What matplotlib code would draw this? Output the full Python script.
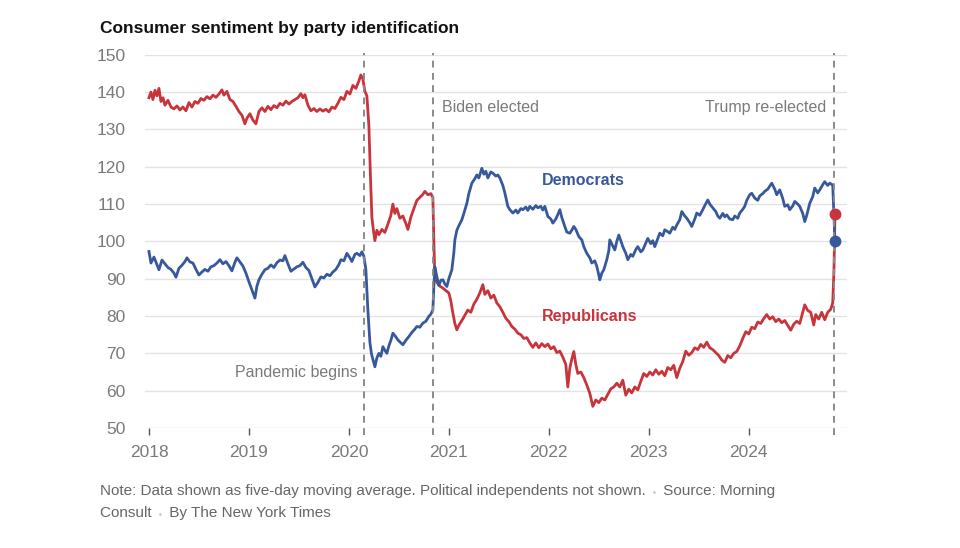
import numpy as np
import matplotlib.pyplot as plt

plt.rcParams['font.family'] = ['Liberation Sans', 'DejaVu Sans']

# -----------------------------------------------------------
# data (decimal years, index values)
rep_t = [2018.00, 2018.02, 2018.04, 2018.06, 2018.08, 2018.10, 2018.12, 2018.14, 2018.16, 2018.19,
         2018.22, 2018.25, 2018.28, 2018.31, 2018.34, 2018.37, 2018.40, 2018.43, 2018.46, 2018.49,
         2018.52, 2018.55, 2018.58, 2018.61, 2018.64, 2018.67, 2018.70, 2018.73, 2018.75, 2018.78,
         2018.81, 2018.84, 2018.87, 2018.90, 2018.93, 2018.96, 2018.98, 2019.01, 2019.04, 2019.07,
         2019.10, 2019.13, 2019.16, 2019.19, 2019.22, 2019.25, 2019.28, 2019.31, 2019.34, 2019.37,
         2019.40, 2019.43, 2019.46, 2019.49, 2019.52, 2019.54, 2019.56, 2019.59, 2019.62, 2019.65,
         2019.68, 2019.71, 2019.74, 2019.77, 2019.80, 2019.83, 2019.86, 2019.89, 2019.92, 2019.95,
         2019.98, 2020.01, 2020.04, 2020.07, 2020.10, 2020.12, 2020.14, 2020.16, 2020.18, 2020.20,
         2020.215, 2020.23, 2020.245, 2020.26, 2020.28, 2020.30, 2020.33, 2020.36, 2020.39, 2020.42,
         2020.44, 2020.46, 2020.48, 2020.51, 2020.54, 2020.57, 2020.59, 2020.62, 2020.65, 2020.68,
         2020.71, 2020.74, 2020.76, 2020.79, 2020.82, 2020.84, 2020.85, 2020.86, 2020.88, 2020.91,
         2020.94, 2020.97, 2021.00, 2021.02, 2021.04, 2021.06, 2021.08, 2021.10, 2021.13, 2021.16,
         2021.19, 2021.22, 2021.25, 2021.28, 2021.31, 2021.34, 2021.36, 2021.39, 2021.42, 2021.45,
         2021.48, 2021.51, 2021.54, 2021.57, 2021.60, 2021.63, 2021.66, 2021.69, 2021.72, 2021.75,
         2021.78, 2021.81, 2021.84, 2021.87, 2021.90, 2021.93, 2021.96, 2021.99, 2022.02, 2022.05,
         2022.08, 2022.11, 2022.14, 2022.17, 2022.19, 2022.21, 2022.23, 2022.25, 2022.27, 2022.29,
         2022.32, 2022.35, 2022.38, 2022.41, 2022.44, 2022.47, 2022.50, 2022.53, 2022.56, 2022.59,
         2022.62, 2022.65, 2022.68, 2022.71, 2022.74, 2022.77, 2022.80, 2022.83, 2022.86, 2022.89,
         2022.92, 2022.95, 2022.98, 2023.01, 2023.04, 2023.07, 2023.10, 2023.13, 2023.16, 2023.19,
         2023.22, 2023.25, 2023.28, 2023.31, 2023.34, 2023.37, 2023.40, 2023.43, 2023.46, 2023.49,
         2023.52, 2023.55, 2023.58, 2023.61, 2023.64, 2023.67, 2023.70, 2023.73, 2023.76, 2023.79,
         2023.82, 2023.85, 2023.88, 2023.91, 2023.94, 2023.97, 2024.00, 2024.03, 2024.06, 2024.09,
         2024.12, 2024.15, 2024.18, 2024.21, 2024.24, 2024.27, 2024.30, 2024.33, 2024.36, 2024.39,
         2024.42, 2024.45, 2024.48, 2024.51, 2024.54, 2024.56, 2024.59, 2024.62, 2024.65, 2024.67,
         2024.70, 2024.73, 2024.76, 2024.79, 2024.82, 2024.84, 2024.852, 2024.858, 2024.862]
rep_v = [138.5, 140.0, 138.0, 140.5, 139.0, 141.0, 137.5, 138.5, 136.5, 137.8,
         136.0, 135.5, 136.3, 135.2, 136.0, 135.0, 137.2, 136.0, 137.5, 137.0,
         138.3, 137.8, 138.8, 138.2, 139.2, 138.6, 139.5, 140.6, 139.2, 140.2,
         138.0, 137.5, 136.2, 134.8, 133.8, 131.5, 133.0, 134.2, 132.5, 131.5,
         134.8, 135.8, 134.8, 136.2, 135.3, 136.4, 135.8, 137.0, 136.5, 137.6,
         136.8, 137.5, 138.0, 138.5, 139.6, 138.5, 139.3, 136.5, 135.0, 135.6,
         134.8, 135.5, 134.9, 135.4, 134.7, 136.0, 135.6, 137.0, 138.6, 138.0,
         140.2, 139.5, 141.8, 141.0, 143.0, 144.6, 143.5, 140.2, 139.0, 131.0,
         118.0, 106.5, 103.0, 100.2, 103.0, 101.8, 103.2, 102.4, 104.6, 107.0,
         110.0, 107.5, 108.8, 106.2, 106.8, 104.8, 103.2, 106.5, 108.8, 111.0,
         111.8, 112.6, 113.4, 112.5, 112.8, 111.8, 100.0, 90.0, 89.0, 88.0,
         87.5, 86.8, 86.2, 84.0, 80.8, 78.0, 76.3, 77.5, 78.8, 80.2,
         81.6, 81.0, 83.2, 84.5, 86.2, 88.4, 85.8, 86.8, 84.8, 85.6,
         83.5, 82.5, 81.0, 79.4, 78.5, 77.2, 76.5, 75.4, 75.0, 74.0,
         74.2, 72.8, 71.6, 72.8, 71.5, 72.6, 71.8, 72.5, 71.2, 71.8,
         70.2, 70.6, 69.0, 67.0, 61.0, 66.0, 68.5, 70.5, 67.0, 64.6,
         65.0, 63.5, 61.5, 59.3, 55.8, 57.5, 56.8, 58.0, 57.5, 59.0,
         60.5, 61.0, 62.0, 61.0, 62.8, 58.8, 60.4, 59.4, 61.0, 60.2,
         62.5, 64.6, 63.8, 65.0, 64.2, 65.6, 64.4, 65.2, 64.0, 66.2,
         65.6, 66.8, 63.5, 66.0, 67.8, 70.6, 69.5, 70.2, 71.5, 71.0,
         72.4, 71.6, 73.0, 71.5, 71.0, 70.2, 69.4, 68.2, 67.6, 69.4,
         68.8, 70.0, 70.5, 72.0, 74.0, 75.8, 75.2, 77.0, 76.6, 78.4,
         78.0, 79.3, 80.4, 79.2, 79.8, 78.5, 79.2, 78.2, 78.8, 77.5,
         76.2, 77.8, 78.6, 78.0, 81.0, 83.0, 81.5, 81.0, 77.6, 80.4,
         79.2, 81.0, 79.0, 81.0, 81.8, 83.5, 92.0, 100.0, 107.4]

dem_t = [2018.00, 2018.02, 2018.05, 2018.08, 2018.10, 2018.13, 2018.16, 2018.19, 2018.22, 2018.25,
         2018.27, 2018.30, 2018.33, 2018.36, 2018.38, 2018.41, 2018.44, 2018.47, 2018.50, 2018.53,
         2018.56, 2018.59, 2018.62, 2018.65, 2018.68, 2018.71, 2018.74, 2018.77, 2018.80, 2018.83,
         2018.86, 2018.88, 2018.91, 2018.94, 2018.97, 2019.00, 2019.03, 2019.06, 2019.08, 2019.10,
         2019.13, 2019.16, 2019.19, 2019.22, 2019.25, 2019.28, 2019.31, 2019.34, 2019.36, 2019.39,
         2019.42, 2019.45, 2019.48, 2019.51, 2019.54, 2019.57, 2019.60, 2019.63, 2019.66, 2019.69,
         2019.72, 2019.75, 2019.78, 2019.81, 2019.84, 2019.87, 2019.90, 2019.92, 2019.95, 2019.98,
         2020.01, 2020.03, 2020.06, 2020.08, 2020.11, 2020.13, 2020.15, 2020.17, 2020.19, 2020.21,
         2020.225, 2020.24, 2020.26, 2020.28, 2020.30, 2020.32, 2020.34, 2020.36, 2020.38, 2020.40,
         2020.42, 2020.44, 2020.47, 2020.49, 2020.52, 2020.54, 2020.57, 2020.60, 2020.63, 2020.66,
         2020.68, 2020.71, 2020.74, 2020.77, 2020.80, 2020.82, 2020.84, 2020.85, 2020.86, 2020.88,
         2020.90, 2020.92, 2020.94, 2020.96, 2020.98, 2021.00, 2021.03, 2021.05, 2021.06, 2021.08,
         2021.10, 2021.13, 2021.15, 2021.18, 2021.20, 2021.23, 2021.26, 2021.28, 2021.30, 2021.33,
         2021.35, 2021.37, 2021.39, 2021.42, 2021.44, 2021.47, 2021.49, 2021.51, 2021.54, 2021.56,
         2021.59, 2021.61, 2021.64, 2021.67, 2021.69, 2021.72, 2021.74, 2021.77, 2021.79, 2021.81,
         2021.84, 2021.87, 2021.89, 2021.92, 2021.94, 2021.96, 2021.99, 2022.02, 2022.04, 2022.07,
         2022.09, 2022.11, 2022.13, 2022.16, 2022.18, 2022.21, 2022.23, 2022.25, 2022.27, 2022.30,
         2022.33, 2022.35, 2022.38, 2022.41, 2022.43, 2022.46, 2022.48, 2022.50, 2022.51, 2022.53,
         2022.55, 2022.58, 2022.60, 2022.61, 2022.64, 2022.66, 2022.68, 2022.70, 2022.72, 2022.74,
         2022.77, 2022.79, 2022.82, 2022.84, 2022.87, 2022.89, 2022.92, 2022.94, 2022.97, 2022.99,
         2023.02, 2023.04, 2023.06, 2023.09, 2023.11, 2023.14, 2023.16, 2023.19, 2023.21, 2023.24,
         2023.26, 2023.28, 2023.31, 2023.33, 2023.36, 2023.38, 2023.41, 2023.43, 2023.46, 2023.48,
         2023.51, 2023.54, 2023.56, 2023.59, 2023.61, 2023.64, 2023.67, 2023.69, 2023.71, 2023.74,
         2023.76, 2023.78, 2023.81, 2023.84, 2023.86, 2023.89, 2023.91, 2023.94, 2023.96, 2023.98,
         2024.01, 2024.03, 2024.06, 2024.09, 2024.11, 2024.14, 2024.16, 2024.19, 2024.21, 2024.23,
         2024.26, 2024.28, 2024.31, 2024.34, 2024.36, 2024.39, 2024.41, 2024.44, 2024.46, 2024.49,
         2024.51, 2024.54, 2024.56, 2024.58, 2024.61, 2024.64, 2024.66, 2024.69, 2024.71, 2024.74,
         2024.76, 2024.79, 2024.81, 2024.84, 2024.85, 2024.862]
dem_v = [97.3, 94.2, 95.8, 93.8, 92.4, 95.0, 94.0, 93.0, 92.5, 91.5,
         90.4, 92.8, 93.6, 94.6, 95.6, 94.5, 94.2, 92.5, 91.0, 91.8,
         92.5, 92.0, 93.2, 93.5, 94.2, 95.1, 94.0, 94.6, 93.5, 92.1,
         94.4, 95.6, 94.5, 93.4, 91.5, 89.2, 87.0, 84.8, 88.0, 89.7,
         91.2, 92.4, 92.8, 93.7, 93.0, 94.3, 95.0, 94.8, 96.2, 94.0,
         92.0, 92.6, 93.2, 93.5, 94.4, 93.0, 92.2, 90.0, 87.8, 89.0,
         90.5, 90.2, 91.2, 90.8, 91.8, 92.5, 93.8, 95.1, 94.8, 96.8,
         95.6, 94.6, 96.5, 96.8, 96.2, 97.2, 96.0, 92.4, 81.6, 73.0,
         70.0, 68.4, 66.4, 68.8, 70.0, 69.2, 71.8, 70.8, 70.0, 72.0,
         73.5, 75.4, 74.4, 73.6, 72.8, 72.3, 73.5, 74.5, 75.6, 76.5,
         77.2, 77.0, 78.1, 78.6, 79.9, 80.5, 81.6, 88.0, 93.2, 90.5,
         88.2, 89.6, 89.7, 88.6, 87.9, 90.0, 92.4, 97.0, 100.4, 103.0,
         104.2, 105.8, 107.5, 110.2, 112.8, 115.6, 116.8, 117.8, 117.0, 119.6,
         118.0, 118.8, 117.0, 118.6, 118.3, 117.5, 117.8, 117.0, 115.0, 113.0,
         109.4, 108.5, 107.6, 108.4, 107.6, 108.8, 108.5, 109.2, 108.3, 109.4,
         108.6, 109.6, 109.0, 109.4, 108.4, 109.4, 106.7, 106.0, 104.9, 106.0,
         107.2, 108.5, 106.4, 104.0, 102.5, 102.2, 103.0, 104.0, 103.2, 101.3,
         100.4, 98.6, 96.8, 95.6, 94.2, 94.8, 93.3, 91.0, 89.7, 91.5,
         92.4, 95.1, 97.5, 100.4, 98.8, 97.7, 100.0, 101.7, 100.2, 98.6,
         96.8, 95.1, 96.5, 96.0, 97.8, 98.6, 97.2, 97.7, 99.6, 100.8,
         99.4, 100.2, 98.6, 100.8, 102.2, 101.5, 103.1, 102.6, 102.2, 103.8,
         103.2, 104.4, 105.8, 108.0, 106.8, 106.2, 105.0, 104.0, 106.0, 107.6,
         107.0, 108.5, 109.6, 111.1, 110.0, 109.0, 108.0, 106.8, 106.2, 107.5,
         106.6, 107.1, 106.0, 105.8, 106.8, 106.2, 107.6, 108.6, 109.4, 111.0,
         112.5, 112.9, 111.6, 111.0, 112.2, 112.8, 113.4, 114.0, 114.8, 115.6,
         114.0, 112.5, 113.8, 111.5, 109.4, 109.8, 108.5, 109.5, 110.7, 110.0,
         109.4, 107.5, 105.3, 107.0, 110.2, 112.0, 114.3, 113.0, 113.8, 115.2,
         116.0, 115.0, 115.6, 115.1, 108.0, 100.2]

years = [2018, 2019, 2020, 2021, 2022, 2023, 2024]
y_ticks = [50, 60, 70, 80, 90, 100, 110, 120, 130, 140, 150]
events = [2020.15, 2020.84, 2024.85]
# -----------------------------------------------------------

red = '#c8343b'
blue = '#37599b'
grey_txt = '#7a7a7a'

fig = plt.figure(figsize=(9.6, 5.48), dpi=100)
ax = fig.add_axes([0.151, 0.219, 0.731, 0.681])

ax.plot(rep_t, rep_v, color=red, lw=2.0, zorder=2, solid_joinstyle='round')
ax.plot(dem_t, dem_v, color=blue, lw=2.0, zorder=2.1, solid_joinstyle='round')
ax.plot(rep_t[-1], rep_v[-1], 'o', color=red, ms=7.5, zorder=5)
ax.plot(dem_t[-1], dem_v[-1], 'o', color=blue, ms=7.5, zorder=5)

for ev in events:
    ax.plot([ev, ev], [48.0, 150.5], color='#8a8a8a', lw=1.4, ls=(0, (3.5, 2.8)),
            zorder=3, clip_on=False)

ax.set_xlim(2017.96, 2024.98)
ax.set_ylim(50, 150)
ax.set_yticks(y_ticks)
ax.set_xticks(years)
ax.set_xticklabels([str(y) for y in years])
ax.grid(axis='y', color='#e3e3e3', lw=1.0, zorder=0)
ax.set_axisbelow(True)
for s in ax.spines.values():
    s.set_visible(False)
ax.tick_params(axis='y', length=0, pad=14, labelsize=12.5, labelcolor=grey_txt)
ax.tick_params(axis='x', length=5, width=1, color='#555555', pad=7,
               labelsize=12.5, labelcolor=grey_txt)

# annotations
ax.text(2020.09, 65.0, 'Pandemic begins', ha='right', va='center', fontsize=11.5, color=grey_txt)
ax.text(2020.93, 135.8, 'Biden elected', ha='left', va='center', fontsize=11.5, color=grey_txt)
ax.text(2024.78, 135.8, 'Trump re-elected', ha='right', va='center', fontsize=11.5, color=grey_txt)
ax.text(2021.93, 116.3, 'Democrats', ha='left', va='center', fontsize=11.5,
        color=blue, fontweight='bold')
ax.text(2021.93, 79.8, 'Republicans', ha='left', va='center', fontsize=11.5,
        color=red, fontweight='bold')

fig.text(100 / 960, 1 - 28 / 548, 'Consumer sentiment by party identification',
         ha='left', va='center', fontsize=12.5, fontweight='bold', color='#121212')

# footnote, pieces chained so the separators can be lighter
note_col = '#666666'
dot_col = '#cccccc'
t1 = fig.text(100 / 960, 1 - 495 / 548,
              'Note: Data shown as five-day moving average. Political independents not shown. ',
              ha='left', va='baseline', fontsize=11, color=note_col)
t2 = ax.annotate(' \u2022 ', xy=(1, 0), xycoords=t1, va='bottom', ha='left',
                 fontsize=7, color=dot_col)
ax.annotate(' Source: Morning', xy=(1, 0), xycoords=t2, va='bottom', ha='left',
            fontsize=11, color=note_col)
t4 = fig.text(100 / 960, 1 - 517 / 548, 'Consult ', ha='left', va='baseline',
              fontsize=11, color=note_col)
t5 = ax.annotate(' \u2022 ', xy=(1, 0), xycoords=t4, va='bottom', ha='left',
                 fontsize=7, color=dot_col)
ax.annotate(' By The New York Times', xy=(1, 0), xycoords=t5, va='bottom', ha='left',
            fontsize=11, color=note_col)

plt.savefig('out.png', dpi=100)
